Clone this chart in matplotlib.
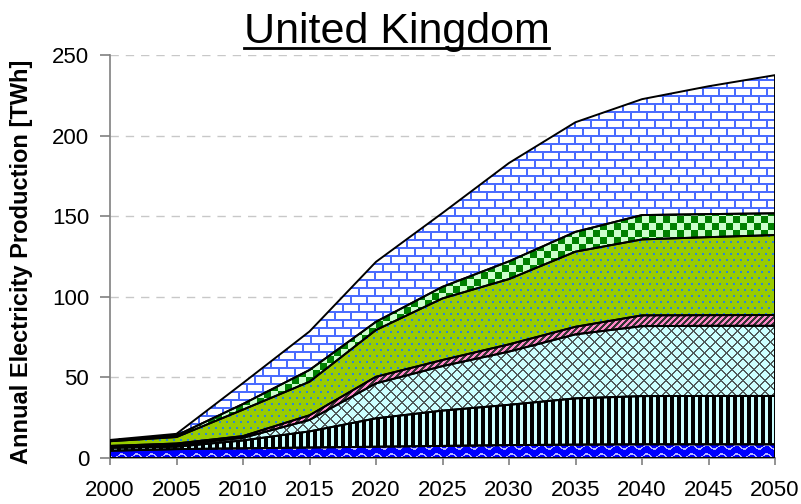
import numpy as np
import matplotlib
matplotlib.use('Agg')
import matplotlib.pyplot as plt
from matplotlib.colors import to_rgb
from matplotlib.lines import Line2D

plt.rcParams['font.family'] = ['Liberation Sans', 'DejaVu Sans']

# Annual production per technology [TWh], stacked bottom to top
years = [2000, 2005, 2010, 2015, 2020, 2025, 2030, 2035, 2040, 2045, 2050]
hydro = [4.5, 5.5, 6.0, 6.5, 7.0, 7.5, 8.0, 8.3, 8.5, 8.5, 8.5]
biomass = [1.8, 1.5, 4.9, 10.0, 17.6, 21.9, 25.0, 28.7, 29.9, 30.0, 30.0]
wind_onshore = [0.7, 1.0, 1.6, 7.1, 21.7, 27.6, 33.0, 39.7, 43.4, 43.5, 43.5]
solar_pv = [0.5, 1.0, 1.1, 2.9, 4.1, 3.8, 4.5, 4.7, 6.7, 6.6, 6.7]
wind_offshore = [2.9, 4.0, 16.4, 20.8, 29.0, 38.2, 40.5, 46.6, 47.1, 48.4, 49.6]
wave_tidal = [0.4, 1.0, 3.5, 7.3, 5.1, 7.2, 11.0, 12.3, 15.1, 14.3, 13.5]
other_res = [0.4, 1.0, 13.0, 23.9, 37.2, 45.8, 61.0, 68.0, 71.9, 79.3, 85.7]

layers = [hydro, biomass, wind_onshore, solar_pv, wind_offshore, wave_tidal, other_res]

W, H = 801, 504
fig = plt.figure(figsize=(W / 100, H / 100), dpi=100)
ax_l, ax_r, ax_t, ax_b = 110, 775, 55, 458
ax = fig.add_axes([ax_l / W, 1 - ax_b / H, (ax_r - ax_l) / W, (ax_b - ax_t) / H])

# plain fills first, patterns get clipped onto them
polys = ax.stackplot(years, *layers, colors=['#0000ff', '#ccffff', '#ccffff', '#ff88c8',
                                             '#99cc00', '#008000', '#ffffff'],
                     linewidth=0, zorder=1)

ph, pw = ax_b - ax_t, ax_r - ax_l
ii, jj = np.mgrid[0:ph, 0:pw]


def paint(base, ink, mask):
    img = np.empty((ph, pw, 3))
    img[:] = to_rgb(base)
    img[mask] = to_rgb(ink)
    return img


wave_y = 4.5 + 2.0 * np.sin(2 * np.pi * jj / 15.0)
waves = np.abs((ii % 9) - wave_y) < 0.9
stripes = (jj % 7) < 4
diag_grid = ((ii + jj) % 11 < 2) | ((ii - jj) % 11 < 2)
slashes = ((ii + jj) % 6) < 3
dots = ((ii % 6) < 2) & (((jj + 3 * ((ii // 6) % 2)) % 7) < 2)
checker = ((ii // 7 + jj // 7) % 2) == 0
brick_row = ii // 8
bricks = ((ii % 8) < 2) | (((jj + 8 * (brick_row % 2)) % 16) < 2)

textures = [
    paint('#0000ff', '#b4b4ff', waves),
    paint('#ccffff', '#000000', stripes),
    paint('#ccffff', '#505a5a', diag_grid),
    paint('#ff88c8', '#333333', slashes),
    paint('#99cc00', '#2e86d6', dots),
    paint('#ccffcc', '#008000', checker),
    paint('#ffffff', '#4a6cff', bricks),
]

for poly, tex in zip(polys, textures):
    im = ax.imshow(tex, extent=(2000, 2050, 0, 250), aspect='auto',
                   interpolation='nearest', zorder=1.5)
    im.set_clip_path(poly.get_paths()[0], ax.transData)

# black outlines of each band
ax.stackplot(years, *layers, colors=['none'] * len(layers),
             edgecolor='black', linewidth=1.4, zorder=3)

ax.set_xlim(2000, 2050)
ax.set_ylim(0, 250)
ax.set_xticks(range(2000, 2051, 5))
ax.set_yticks(range(0, 251, 50))
ax.set_axisbelow(True)
ax.yaxis.grid(True, color='#c8c8c8', linestyle=(0, (6, 5)), linewidth=1)

for side in ('top', 'right'):
    ax.spines[side].set_visible(False)
for side in ('left', 'bottom'):
    ax.spines[side].set_color('#808080')
    ax.spines[side].set_linewidth(1.2)

ax.tick_params(axis='y', direction='out', length=7, width=1.2, color='#808080',
               labelsize=16, pad=8)
ax.tick_params(axis='x', direction='out', length=5, width=1.2, color='#808080',
               labelsize=16, pad=11)

fig.text(22 / W, 1 - 262 / H, 'Annual Electricity Production [TWh]',
         rotation=90, ha='center', va='center', fontsize=17, fontweight='bold')

title = fig.text(0.495, 1 - 43 / H, 'United Kingdom', fontsize=31,
                 ha='center', va='baseline')
fig.canvas.draw()
bb = title.get_window_extent()
fig.add_artist(Line2D([bb.x0 / W, bb.x1 / W], [1 - 48 / H] * 2,
                      transform=fig.transFigure, color='black', linewidth=2))

fig.savefig('out.png', dpi=100)
